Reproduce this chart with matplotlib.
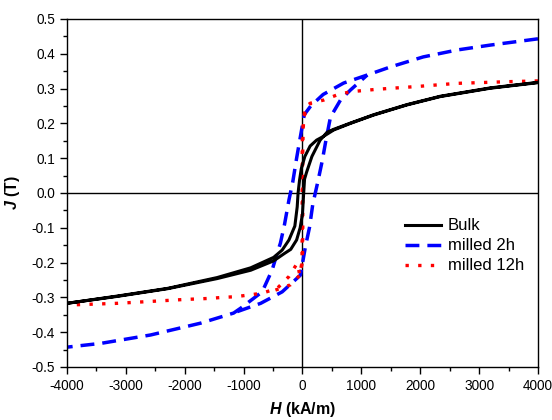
import matplotlib

matplotlib.use("Agg")
import matplotlib.pyplot as plt
from matplotlib.ticker import MultipleLocator

plt.rcParams["font.family"] = ["Liberation Sans", "DejaVu Sans"]
plt.rcParams["axes.unicode_minus"] = False
plt.rcParams["mathtext.fontset"] = "custom"
plt.rcParams["mathtext.bfit"] = "Liberation Sans:italic:bold"

# Bulk loop: descending field branch then ascending field branch
bulk_h_down = [4000, 3190, 2340, 1775, 1210, 815, 530, 360, 240, 130, 40, -20, -50, -75,
               -90, -130, -230, -345, -490, -880, -1450, -2290, -3140, -4000]
bulk_j_down = [0.317, 0.301, 0.277, 0.253, 0.224, 0.200, 0.181, 0.163, 0.152, 0.135, 0.105,
               0.070, 0.037, 0.000, -0.040, -0.095, -0.135, -0.164, -0.185, -0.215, -0.243,
               -0.274, -0.296, -0.317]
bulk_h_up = [-4000, -3140, -2290, -1450, -880, -490, -300, -200, -100, -40, 0, 20, 35, 70,
             160, 300, 420, 530, 815, 1210, 1775, 2340, 3190, 4000]
bulk_j_up = [-0.317, -0.297, -0.275, -0.246, -0.222, -0.195, -0.173, -0.162, -0.135, -0.100,
             -0.060, 0.000, 0.040, 0.060, 0.105, 0.152, 0.175, 0.183, 0.201, 0.225, 0.254,
             0.278, 0.302, 0.318]

# milled 2h loop (the rising branch is only the part that leaves the outer curve)
m2_h_down = [4000, 3190, 2630, 2050, 1490, 1100, 700, 350, 140, 30, -100, -165, -230, -305,
             -375, -430, -515, -685, -1050, -1170, -1730, -2580, -3420, -4000]
m2_j_down = [0.443, 0.425, 0.411, 0.391, 0.362, 0.339, 0.316, 0.283, 0.250, 0.225, 0.100,
             0.032, -0.020, -0.090, -0.144, -0.173, -0.221, -0.284, -0.331, -0.345, -0.374,
             -0.408, -0.432, -0.443]
m2_h_up = [-1110, -710, -345, -35, 50, 120, 175, 260, 335, 390, 475, 645, 815, 1100]
m2_j_up = [-0.341, -0.317, -0.284, -0.236, -0.154, -0.098, -0.032, 0.032, 0.092, 0.144,
           0.218, 0.267, 0.296, 0.339]

# milled 12h loop
m12_h_down = [4000, 3525, 2620, 1945, 1265, 815, 590, 360, 135, 20, -5, -5, -5, -8, -45,
              -90, -230, -430, -685, -910, -1135, -1360, -1590, -2010, -3140, -4000]
m12_j_down = [0.322, 0.320, 0.315, 0.306, 0.298, 0.291, 0.282, 0.267, 0.258, 0.219, 0.143,
              0.000, -0.100, -0.197, -0.236, -0.202, -0.240, -0.274, -0.288, -0.293, -0.298,
              -0.300, -0.303, -0.306, -0.317, -0.322]
m12_h_up = [-460, -205, -45, 0, 5, 5, 5, 20, 60, 135]
m12_j_up = [-0.279, -0.264, -0.236, -0.197, -0.100, 0.000, 0.143, 0.219, 0.250, 0.258]

fig = plt.figure(figsize=(5.52, 4.2), dpi=100)
ax = fig.add_axes([0.1214, 0.1262, 0.8532, 0.8286])

ax.axhline(0, color="black", lw=1.0, zorder=1)
ax.axvline(0, color="black", lw=1.0, zorder=1)

blue_style = dict(color="#0000ff", lw=2.5, linestyle=(0, (4, 2.3)), zorder=2)
red_style = dict(color="#ff0000", lw=2.4, linestyle=(0, (1, 2.8)), zorder=2)

ax.plot(bulk_h_down + bulk_h_up, bulk_j_down + bulk_j_up, color="black", lw=2.2,
        label="Bulk", zorder=3)
ax.plot(m2_h_down, m2_j_down, label="milled 2h", **blue_style)
ax.plot(m2_h_up, m2_j_up, **blue_style)
ax.plot(m12_h_down, m12_j_down, label="milled 12h", **red_style)
ax.plot(m12_h_up, m12_j_up, **red_style)

ax.set_xlim(-4000, 4000)
ax.set_ylim(-0.5, 0.5)
ax.xaxis.set_major_locator(MultipleLocator(1000))
ax.xaxis.set_minor_locator(MultipleLocator(500))
ax.yaxis.set_major_locator(MultipleLocator(0.1))
ax.yaxis.set_minor_locator(MultipleLocator(0.05))
ax.yaxis.set_major_formatter(plt.FuncFormatter(lambda v, p: f"{v:.1f}"))
ax.tick_params(which="both", direction="out", top=False, right=False, labelsize=9.8,
               width=1.0)
ax.tick_params(which="major", length=5)
ax.tick_params(which="minor", length=3)
for sp in ax.spines.values():
    sp.set_linewidth(1.0)

ax.set_xlabel(r"$\mathbfit{H}$ (kA/m)", fontsize=11.5, fontweight="bold", labelpad=5)
ax.set_ylabel(r"$\mathbfit{J}$ (T)", fontsize=11.5, fontweight="bold", labelpad=7)

ax.legend(loc="upper left", bbox_to_anchor=(0.685, 0.47), frameon=False, fontsize=12,
          handlelength=2.2, handletextpad=0.4, labelspacing=0.3)

fig.savefig("out.png", dpi=100)
